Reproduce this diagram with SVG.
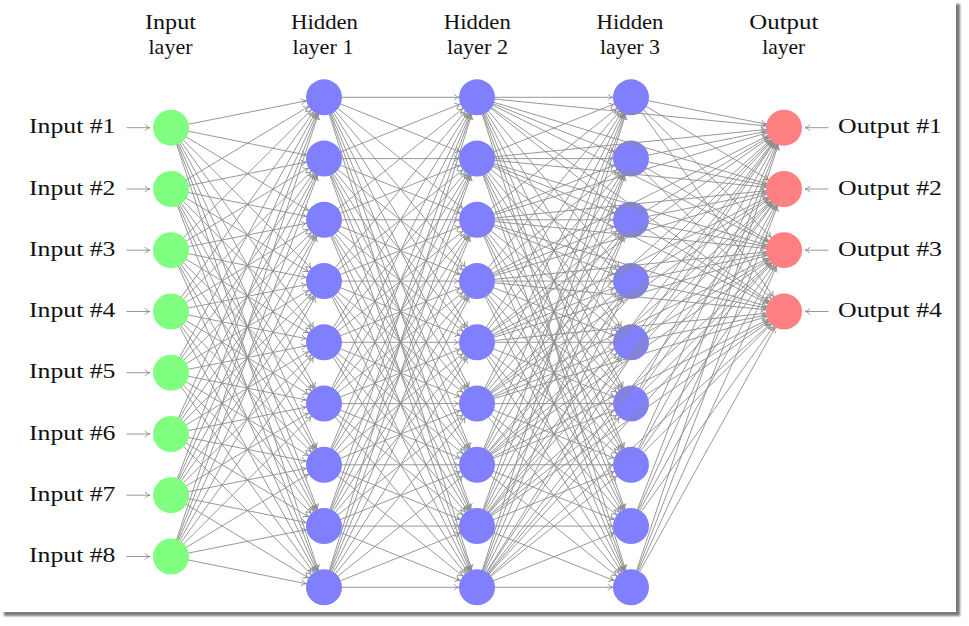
<svg xmlns="http://www.w3.org/2000/svg" width="969" height="626" viewBox="0 0 969 626">
<style>
text{font-family:"Liberation Serif","Times New Roman",serif;font-size:22px;fill:#111}
.hd{text-anchor:middle}
.lb{text-anchor:end}
.e line{stroke:#8c8c8c;stroke-width:0.9;fill:none;marker-end:url(#ah)}
.a line{stroke:#8c8c8c;stroke-width:0.9;fill:none;marker-end:url(#ah0)}
.in{fill:#80ff80}
.hid{fill:#8080ff}
.out{fill:#ff8080}
</style>
<defs>
<filter id="sh" x="-5%" y="-5%" width="110%" height="110%"><feGaussianBlur stdDeviation="1.2"/></filter>
<marker id="ah" markerUnits="userSpaceOnUse" orient="auto" markerWidth="1" markerHeight="1" overflow="visible"><path d="M-23,-3.2 C-22,-1.5 -19.5,-0.3 -18,0 C-19.5,0.3 -22,1.5 -23,3.2" fill="none" stroke="#8c8c8c" stroke-width="0.9"/></marker>
<marker id="ah0" markerUnits="userSpaceOnUse" orient="auto" markerWidth="1" markerHeight="1" overflow="visible"><path d="M-5,-3.2 C-4,-1.5 -1.5,-0.3 0,0 C-1.5,0.3 -4,1.5 -5,3.2" fill="none" stroke="#8c8c8c" stroke-width="0.9"/></marker>
</defs>
<rect x="0" y="0" width="969" height="626" fill="#fff"/>
<rect x="4" y="4" width="956" height="612" fill="#7a7a7a" filter="url(#sh)"/>
<rect x="0" y="0" width="956" height="612" fill="#fff"/>

<g id="headers">
<text class="hd" x="170.5" y="29" textLength="51" lengthAdjust="spacingAndGlyphs">Input</text>
<text class="hd" x="170.5" y="53.5" textLength="44" lengthAdjust="spacingAndGlyphs">layer</text>
<text class="hd" x="324.5" y="28.5" textLength="67" lengthAdjust="spacingAndGlyphs">Hidden</text>
<text class="hd" x="323" y="53.5" textLength="61" lengthAdjust="spacingAndGlyphs">layer 1</text>
<text class="hd" x="477.3" y="28.5" textLength="67" lengthAdjust="spacingAndGlyphs">Hidden</text>
<text class="hd" x="477.5" y="53.5" textLength="61" lengthAdjust="spacingAndGlyphs">layer 2</text>
<text class="hd" x="630" y="28.5" textLength="67" lengthAdjust="spacingAndGlyphs">Hidden</text>
<text class="hd" x="630" y="53.5" textLength="60" lengthAdjust="spacingAndGlyphs">layer 3</text>
<text class="hd" x="783.8" y="29" textLength="69" lengthAdjust="spacingAndGlyphs">Output</text>
<text class="hd" x="783.7" y="53.5" textLength="43" lengthAdjust="spacingAndGlyphs">layer</text>
</g>

<g id="connectors">
<g class="a">
<line x1="126.5" y1="127.7" x2="150" y2="127.7"/>
<line x1="126.5" y1="189" x2="150" y2="189"/>
<line x1="126.5" y1="250.2" x2="150" y2="250.2"/>
<line x1="126.5" y1="311.5" x2="150" y2="311.5"/>
<line x1="126.5" y1="372.7" x2="150" y2="372.7"/>
<line x1="126.5" y1="434" x2="150" y2="434"/>
<line x1="126.5" y1="495.2" x2="150" y2="495.2"/>
<line x1="126.5" y1="556.5" x2="150" y2="556.5"/>
<line x1="828.5" y1="127.7" x2="805" y2="127.7"/>
<line x1="828.5" y1="189" x2="805" y2="189"/>
<line x1="828.5" y1="250.2" x2="805" y2="250.2"/>
<line x1="828.5" y1="311.5" x2="805" y2="311.5"/>
</g>
<g class="e" id="in-h1">
<line x1="171" y1="127.7" x2="324" y2="97.3"/><line x1="171" y1="127.7" x2="324" y2="158.6"/><line x1="171" y1="127.7" x2="324" y2="219.8"/><line x1="171" y1="127.7" x2="324" y2="281.1"/><line x1="171" y1="127.7" x2="324" y2="342.3"/><line x1="171" y1="127.7" x2="324" y2="403.6"/><line x1="171" y1="127.7" x2="324" y2="464.8"/><line x1="171" y1="127.7" x2="324" y2="526.1"/><line x1="171" y1="127.7" x2="324" y2="587.3"/>
<line x1="171" y1="189" x2="324" y2="97.3"/><line x1="171" y1="189" x2="324" y2="158.6"/><line x1="171" y1="189" x2="324" y2="219.8"/><line x1="171" y1="189" x2="324" y2="281.1"/><line x1="171" y1="189" x2="324" y2="342.3"/><line x1="171" y1="189" x2="324" y2="403.6"/><line x1="171" y1="189" x2="324" y2="464.8"/><line x1="171" y1="189" x2="324" y2="526.1"/><line x1="171" y1="189" x2="324" y2="587.3"/>
<line x1="171" y1="250.2" x2="324" y2="97.3"/><line x1="171" y1="250.2" x2="324" y2="158.6"/><line x1="171" y1="250.2" x2="324" y2="219.8"/><line x1="171" y1="250.2" x2="324" y2="281.1"/><line x1="171" y1="250.2" x2="324" y2="342.3"/><line x1="171" y1="250.2" x2="324" y2="403.6"/><line x1="171" y1="250.2" x2="324" y2="464.8"/><line x1="171" y1="250.2" x2="324" y2="526.1"/><line x1="171" y1="250.2" x2="324" y2="587.3"/>
<line x1="171" y1="311.5" x2="324" y2="97.3"/><line x1="171" y1="311.5" x2="324" y2="158.6"/><line x1="171" y1="311.5" x2="324" y2="219.8"/><line x1="171" y1="311.5" x2="324" y2="281.1"/><line x1="171" y1="311.5" x2="324" y2="342.3"/><line x1="171" y1="311.5" x2="324" y2="403.6"/><line x1="171" y1="311.5" x2="324" y2="464.8"/><line x1="171" y1="311.5" x2="324" y2="526.1"/><line x1="171" y1="311.5" x2="324" y2="587.3"/>
<line x1="171" y1="372.7" x2="324" y2="97.3"/><line x1="171" y1="372.7" x2="324" y2="158.6"/><line x1="171" y1="372.7" x2="324" y2="219.8"/><line x1="171" y1="372.7" x2="324" y2="281.1"/><line x1="171" y1="372.7" x2="324" y2="342.3"/><line x1="171" y1="372.7" x2="324" y2="403.6"/><line x1="171" y1="372.7" x2="324" y2="464.8"/><line x1="171" y1="372.7" x2="324" y2="526.1"/><line x1="171" y1="372.7" x2="324" y2="587.3"/>
<line x1="171" y1="434" x2="324" y2="97.3"/><line x1="171" y1="434" x2="324" y2="158.6"/><line x1="171" y1="434" x2="324" y2="219.8"/><line x1="171" y1="434" x2="324" y2="281.1"/><line x1="171" y1="434" x2="324" y2="342.3"/><line x1="171" y1="434" x2="324" y2="403.6"/><line x1="171" y1="434" x2="324" y2="464.8"/><line x1="171" y1="434" x2="324" y2="526.1"/><line x1="171" y1="434" x2="324" y2="587.3"/>
<line x1="171" y1="495.2" x2="324" y2="97.3"/><line x1="171" y1="495.2" x2="324" y2="158.6"/><line x1="171" y1="495.2" x2="324" y2="219.8"/><line x1="171" y1="495.2" x2="324" y2="281.1"/><line x1="171" y1="495.2" x2="324" y2="342.3"/><line x1="171" y1="495.2" x2="324" y2="403.6"/><line x1="171" y1="495.2" x2="324" y2="464.8"/><line x1="171" y1="495.2" x2="324" y2="526.1"/><line x1="171" y1="495.2" x2="324" y2="587.3"/>
<line x1="171" y1="556.5" x2="324" y2="97.3"/><line x1="171" y1="556.5" x2="324" y2="158.6"/><line x1="171" y1="556.5" x2="324" y2="219.8"/><line x1="171" y1="556.5" x2="324" y2="281.1"/><line x1="171" y1="556.5" x2="324" y2="342.3"/><line x1="171" y1="556.5" x2="324" y2="403.6"/><line x1="171" y1="556.5" x2="324" y2="464.8"/><line x1="171" y1="556.5" x2="324" y2="526.1"/><line x1="171" y1="556.5" x2="324" y2="587.3"/>
</g>
<g class="e" id="h1-h2">
<line x1="324" y1="97.3" x2="477" y2="97.3"/><line x1="324" y1="97.3" x2="477" y2="158.6"/><line x1="324" y1="97.3" x2="477" y2="219.8"/><line x1="324" y1="97.3" x2="477" y2="281.1"/><line x1="324" y1="97.3" x2="477" y2="342.3"/><line x1="324" y1="97.3" x2="477" y2="403.6"/><line x1="324" y1="97.3" x2="477" y2="464.8"/><line x1="324" y1="97.3" x2="477" y2="526.1"/><line x1="324" y1="97.3" x2="477" y2="587.3"/>
<line x1="324" y1="158.6" x2="477" y2="97.3"/><line x1="324" y1="158.6" x2="477" y2="158.6"/><line x1="324" y1="158.6" x2="477" y2="219.8"/><line x1="324" y1="158.6" x2="477" y2="281.1"/><line x1="324" y1="158.6" x2="477" y2="342.3"/><line x1="324" y1="158.6" x2="477" y2="403.6"/><line x1="324" y1="158.6" x2="477" y2="464.8"/><line x1="324" y1="158.6" x2="477" y2="526.1"/><line x1="324" y1="158.6" x2="477" y2="587.3"/>
<line x1="324" y1="219.8" x2="477" y2="97.3"/><line x1="324" y1="219.8" x2="477" y2="158.6"/><line x1="324" y1="219.8" x2="477" y2="219.8"/><line x1="324" y1="219.8" x2="477" y2="281.1"/><line x1="324" y1="219.8" x2="477" y2="342.3"/><line x1="324" y1="219.8" x2="477" y2="403.6"/><line x1="324" y1="219.8" x2="477" y2="464.8"/><line x1="324" y1="219.8" x2="477" y2="526.1"/><line x1="324" y1="219.8" x2="477" y2="587.3"/>
<line x1="324" y1="281.1" x2="477" y2="97.3"/><line x1="324" y1="281.1" x2="477" y2="158.6"/><line x1="324" y1="281.1" x2="477" y2="219.8"/><line x1="324" y1="281.1" x2="477" y2="281.1"/><line x1="324" y1="281.1" x2="477" y2="342.3"/><line x1="324" y1="281.1" x2="477" y2="403.6"/><line x1="324" y1="281.1" x2="477" y2="464.8"/><line x1="324" y1="281.1" x2="477" y2="526.1"/><line x1="324" y1="281.1" x2="477" y2="587.3"/>
<line x1="324" y1="342.3" x2="477" y2="97.3"/><line x1="324" y1="342.3" x2="477" y2="158.6"/><line x1="324" y1="342.3" x2="477" y2="219.8"/><line x1="324" y1="342.3" x2="477" y2="281.1"/><line x1="324" y1="342.3" x2="477" y2="342.3"/><line x1="324" y1="342.3" x2="477" y2="403.6"/><line x1="324" y1="342.3" x2="477" y2="464.8"/><line x1="324" y1="342.3" x2="477" y2="526.1"/><line x1="324" y1="342.3" x2="477" y2="587.3"/>
<line x1="324" y1="403.6" x2="477" y2="97.3"/><line x1="324" y1="403.6" x2="477" y2="158.6"/><line x1="324" y1="403.6" x2="477" y2="219.8"/><line x1="324" y1="403.6" x2="477" y2="281.1"/><line x1="324" y1="403.6" x2="477" y2="342.3"/><line x1="324" y1="403.6" x2="477" y2="403.6"/><line x1="324" y1="403.6" x2="477" y2="464.8"/><line x1="324" y1="403.6" x2="477" y2="526.1"/><line x1="324" y1="403.6" x2="477" y2="587.3"/>
<line x1="324" y1="464.8" x2="477" y2="97.3"/><line x1="324" y1="464.8" x2="477" y2="158.6"/><line x1="324" y1="464.8" x2="477" y2="219.8"/><line x1="324" y1="464.8" x2="477" y2="281.1"/><line x1="324" y1="464.8" x2="477" y2="342.3"/><line x1="324" y1="464.8" x2="477" y2="403.6"/><line x1="324" y1="464.8" x2="477" y2="464.8"/><line x1="324" y1="464.8" x2="477" y2="526.1"/><line x1="324" y1="464.8" x2="477" y2="587.3"/>
<line x1="324" y1="526.1" x2="477" y2="97.3"/><line x1="324" y1="526.1" x2="477" y2="158.6"/><line x1="324" y1="526.1" x2="477" y2="219.8"/><line x1="324" y1="526.1" x2="477" y2="281.1"/><line x1="324" y1="526.1" x2="477" y2="342.3"/><line x1="324" y1="526.1" x2="477" y2="403.6"/><line x1="324" y1="526.1" x2="477" y2="464.8"/><line x1="324" y1="526.1" x2="477" y2="526.1"/><line x1="324" y1="526.1" x2="477" y2="587.3"/>
<line x1="324" y1="587.3" x2="477" y2="97.3"/><line x1="324" y1="587.3" x2="477" y2="158.6"/><line x1="324" y1="587.3" x2="477" y2="219.8"/><line x1="324" y1="587.3" x2="477" y2="281.1"/><line x1="324" y1="587.3" x2="477" y2="342.3"/><line x1="324" y1="587.3" x2="477" y2="403.6"/><line x1="324" y1="587.3" x2="477" y2="464.8"/><line x1="324" y1="587.3" x2="477" y2="526.1"/><line x1="324" y1="587.3" x2="477" y2="587.3"/>
</g>
<g class="e" id="h2-h3">
<line x1="477" y1="97.3" x2="631" y2="97.3"/><line x1="477" y1="97.3" x2="631" y2="158.6"/><line x1="477" y1="97.3" x2="631" y2="219.8"/><line x1="477" y1="97.3" x2="631" y2="281.1"/><line x1="477" y1="97.3" x2="631" y2="342.3"/><line x1="477" y1="97.3" x2="631" y2="403.6"/><line x1="477" y1="97.3" x2="631" y2="464.8"/><line x1="477" y1="97.3" x2="631" y2="526.1"/><line x1="477" y1="97.3" x2="631" y2="587.3"/>
<line x1="477" y1="158.6" x2="631" y2="97.3"/><line x1="477" y1="158.6" x2="631" y2="158.6"/><line x1="477" y1="158.6" x2="631" y2="219.8"/><line x1="477" y1="158.6" x2="631" y2="281.1"/><line x1="477" y1="158.6" x2="631" y2="342.3"/><line x1="477" y1="158.6" x2="631" y2="403.6"/><line x1="477" y1="158.6" x2="631" y2="464.8"/><line x1="477" y1="158.6" x2="631" y2="526.1"/><line x1="477" y1="158.6" x2="631" y2="587.3"/>
<line x1="477" y1="219.8" x2="631" y2="97.3"/><line x1="477" y1="219.8" x2="631" y2="158.6"/><line x1="477" y1="219.8" x2="631" y2="219.8"/><line x1="477" y1="219.8" x2="631" y2="281.1"/><line x1="477" y1="219.8" x2="631" y2="342.3"/><line x1="477" y1="219.8" x2="631" y2="403.6"/><line x1="477" y1="219.8" x2="631" y2="464.8"/><line x1="477" y1="219.8" x2="631" y2="526.1"/><line x1="477" y1="219.8" x2="631" y2="587.3"/>
<line x1="477" y1="281.1" x2="631" y2="97.3"/><line x1="477" y1="281.1" x2="631" y2="158.6"/><line x1="477" y1="281.1" x2="631" y2="219.8"/><line x1="477" y1="281.1" x2="631" y2="281.1"/><line x1="477" y1="281.1" x2="631" y2="342.3"/><line x1="477" y1="281.1" x2="631" y2="403.6"/><line x1="477" y1="281.1" x2="631" y2="464.8"/><line x1="477" y1="281.1" x2="631" y2="526.1"/><line x1="477" y1="281.1" x2="631" y2="587.3"/>
<line x1="477" y1="342.3" x2="631" y2="97.3"/><line x1="477" y1="342.3" x2="631" y2="158.6"/><line x1="477" y1="342.3" x2="631" y2="219.8"/><line x1="477" y1="342.3" x2="631" y2="281.1"/><line x1="477" y1="342.3" x2="631" y2="342.3"/><line x1="477" y1="342.3" x2="631" y2="403.6"/><line x1="477" y1="342.3" x2="631" y2="464.8"/><line x1="477" y1="342.3" x2="631" y2="526.1"/><line x1="477" y1="342.3" x2="631" y2="587.3"/>
<line x1="477" y1="403.6" x2="631" y2="97.3"/><line x1="477" y1="403.6" x2="631" y2="158.6"/><line x1="477" y1="403.6" x2="631" y2="219.8"/><line x1="477" y1="403.6" x2="631" y2="281.1"/><line x1="477" y1="403.6" x2="631" y2="342.3"/><line x1="477" y1="403.6" x2="631" y2="403.6"/><line x1="477" y1="403.6" x2="631" y2="464.8"/><line x1="477" y1="403.6" x2="631" y2="526.1"/><line x1="477" y1="403.6" x2="631" y2="587.3"/>
<line x1="477" y1="464.8" x2="631" y2="97.3"/><line x1="477" y1="464.8" x2="631" y2="158.6"/><line x1="477" y1="464.8" x2="631" y2="219.8"/><line x1="477" y1="464.8" x2="631" y2="281.1"/><line x1="477" y1="464.8" x2="631" y2="342.3"/><line x1="477" y1="464.8" x2="631" y2="403.6"/><line x1="477" y1="464.8" x2="631" y2="464.8"/><line x1="477" y1="464.8" x2="631" y2="526.1"/><line x1="477" y1="464.8" x2="631" y2="587.3"/>
<line x1="477" y1="526.1" x2="631" y2="97.3"/><line x1="477" y1="526.1" x2="631" y2="158.6"/><line x1="477" y1="526.1" x2="631" y2="219.8"/><line x1="477" y1="526.1" x2="631" y2="281.1"/><line x1="477" y1="526.1" x2="631" y2="342.3"/><line x1="477" y1="526.1" x2="631" y2="403.6"/><line x1="477" y1="526.1" x2="631" y2="464.8"/><line x1="477" y1="526.1" x2="631" y2="526.1"/><line x1="477" y1="526.1" x2="631" y2="587.3"/>
<line x1="477" y1="587.3" x2="631" y2="97.3"/><line x1="477" y1="587.3" x2="631" y2="158.6"/><line x1="477" y1="587.3" x2="631" y2="219.8"/><line x1="477" y1="587.3" x2="631" y2="281.1"/><line x1="477" y1="587.3" x2="631" y2="342.3"/><line x1="477" y1="587.3" x2="631" y2="403.6"/><line x1="477" y1="587.3" x2="631" y2="464.8"/><line x1="477" y1="587.3" x2="631" y2="526.1"/><line x1="477" y1="587.3" x2="631" y2="587.3"/>
</g>
<g class="e" id="h3-out">
<line x1="631" y1="97.3" x2="784" y2="127.7"/><line x1="631" y1="97.3" x2="784" y2="189"/><line x1="631" y1="97.3" x2="784" y2="250.2"/><line x1="631" y1="97.3" x2="784" y2="311.5"/>
<line x1="631" y1="158.6" x2="784" y2="127.7"/><line x1="631" y1="158.6" x2="784" y2="189"/><line x1="631" y1="158.6" x2="784" y2="250.2"/><line x1="631" y1="158.6" x2="784" y2="311.5"/>
<line x1="631" y1="219.8" x2="784" y2="127.7"/><line x1="631" y1="219.8" x2="784" y2="189"/><line x1="631" y1="219.8" x2="784" y2="250.2"/><line x1="631" y1="219.8" x2="784" y2="311.5"/>
<line x1="631" y1="281.1" x2="784" y2="127.7"/><line x1="631" y1="281.1" x2="784" y2="189"/><line x1="631" y1="281.1" x2="784" y2="250.2"/><line x1="631" y1="281.1" x2="784" y2="311.5"/>
<line x1="631" y1="342.3" x2="784" y2="127.7"/><line x1="631" y1="342.3" x2="784" y2="189"/><line x1="631" y1="342.3" x2="784" y2="250.2"/><line x1="631" y1="342.3" x2="784" y2="311.5"/>
<line x1="631" y1="403.6" x2="784" y2="127.7"/><line x1="631" y1="403.6" x2="784" y2="189"/><line x1="631" y1="403.6" x2="784" y2="250.2"/><line x1="631" y1="403.6" x2="784" y2="311.5"/>
<line x1="631" y1="464.8" x2="784" y2="127.7"/><line x1="631" y1="464.8" x2="784" y2="189"/><line x1="631" y1="464.8" x2="784" y2="250.2"/><line x1="631" y1="464.8" x2="784" y2="311.5"/>
<line x1="631" y1="526.1" x2="784" y2="127.7"/><line x1="631" y1="526.1" x2="784" y2="189"/><line x1="631" y1="526.1" x2="784" y2="250.2"/><line x1="631" y1="526.1" x2="784" y2="311.5"/>
<line x1="631" y1="587.3" x2="784" y2="127.7"/><line x1="631" y1="587.3" x2="784" y2="189"/><line x1="631" y1="587.3" x2="784" y2="250.2"/><line x1="631" y1="587.3" x2="784" y2="311.5"/>
</g>
</g>

<g id="hidden3">
<g id="h3n1"><circle class="hid" cx="631" cy="97.3" r="18"/></g>
<g id="h3n2"><circle class="hid" cx="631" cy="158.6" r="18"/></g>
<g id="h3n3"><circle class="hid" cx="631" cy="219.8" r="18"/></g>
<g id="h3n4"><circle class="hid" cx="631" cy="281.1" r="18"/></g>
<g id="h3n5"><circle class="hid" cx="631" cy="342.3" r="18"/></g>
<g id="h3n6"><circle class="hid" cx="631" cy="403.6" r="18"/></g>
<g id="h3n7"><circle class="hid" cx="631" cy="464.8" r="18"/></g>
<g id="h3n8"><circle class="hid" cx="631" cy="526.1" r="18"/></g>
<g id="h3n9"><circle class="hid" cx="631" cy="587.3" r="18"/></g>
</g>

<g id="connectors-h2-out" class="e">
<line x1="477" y1="97.3" x2="784" y2="127.7"/><line x1="477" y1="97.3" x2="784" y2="189"/><line x1="477" y1="97.3" x2="784" y2="250.2"/><line x1="477" y1="97.3" x2="784" y2="311.5"/>
<line x1="477" y1="158.6" x2="784" y2="127.7"/><line x1="477" y1="158.6" x2="784" y2="189"/><line x1="477" y1="158.6" x2="784" y2="250.2"/><line x1="477" y1="158.6" x2="784" y2="311.5"/>
<line x1="477" y1="219.8" x2="784" y2="127.7"/><line x1="477" y1="219.8" x2="784" y2="189"/><line x1="477" y1="219.8" x2="784" y2="250.2"/><line x1="477" y1="219.8" x2="784" y2="311.5"/>
<line x1="477" y1="281.1" x2="784" y2="127.7"/><line x1="477" y1="281.1" x2="784" y2="189"/><line x1="477" y1="281.1" x2="784" y2="250.2"/><line x1="477" y1="281.1" x2="784" y2="311.5"/>
<line x1="477" y1="342.3" x2="784" y2="127.7"/><line x1="477" y1="342.3" x2="784" y2="189"/><line x1="477" y1="342.3" x2="784" y2="250.2"/><line x1="477" y1="342.3" x2="784" y2="311.5"/>
<line x1="477" y1="403.6" x2="784" y2="127.7"/><line x1="477" y1="403.6" x2="784" y2="189"/><line x1="477" y1="403.6" x2="784" y2="250.2"/><line x1="477" y1="403.6" x2="784" y2="311.5"/>
<line x1="477" y1="464.8" x2="784" y2="127.7"/><line x1="477" y1="464.8" x2="784" y2="189"/><line x1="477" y1="464.8" x2="784" y2="250.2"/><line x1="477" y1="464.8" x2="784" y2="311.5"/>
<line x1="477" y1="526.1" x2="784" y2="127.7"/><line x1="477" y1="526.1" x2="784" y2="189"/><line x1="477" y1="526.1" x2="784" y2="250.2"/><line x1="477" y1="526.1" x2="784" y2="311.5"/>
<line x1="477" y1="587.3" x2="784" y2="127.7"/><line x1="477" y1="587.3" x2="784" y2="189"/><line x1="477" y1="587.3" x2="784" y2="250.2"/><line x1="477" y1="587.3" x2="784" y2="311.5"/>
</g>

<g id="input">
<g id="in1"><circle class="in" cx="171" cy="127.7" r="18"/><text class="lb" x="115.5" y="133.3" textLength="86.5" lengthAdjust="spacingAndGlyphs">Input #1</text></g>
<g id="in2"><circle class="in" cx="171" cy="189" r="18"/><text class="lb" x="115.5" y="194.6" textLength="86.5" lengthAdjust="spacingAndGlyphs">Input #2</text></g>
<g id="in3"><circle class="in" cx="171" cy="250.2" r="18"/><text class="lb" x="115.5" y="255.8" textLength="86.5" lengthAdjust="spacingAndGlyphs">Input #3</text></g>
<g id="in4"><circle class="in" cx="171" cy="311.5" r="18"/><text class="lb" x="115.5" y="317.1" textLength="86.5" lengthAdjust="spacingAndGlyphs">Input #4</text></g>
<g id="in5"><circle class="in" cx="171" cy="372.7" r="18"/><text class="lb" x="115.5" y="378.3" textLength="86.5" lengthAdjust="spacingAndGlyphs">Input #5</text></g>
<g id="in6"><circle class="in" cx="171" cy="434" r="18"/><text class="lb" x="115.5" y="439.6" textLength="86.5" lengthAdjust="spacingAndGlyphs">Input #6</text></g>
<g id="in7"><circle class="in" cx="171" cy="495.2" r="18"/><text class="lb" x="115.5" y="500.8" textLength="86.5" lengthAdjust="spacingAndGlyphs">Input #7</text></g>
<g id="in8"><circle class="in" cx="171" cy="556.5" r="18"/><text class="lb" x="115.5" y="562.1" textLength="86.5" lengthAdjust="spacingAndGlyphs">Input #8</text></g>
</g>

<g id="hidden1">
<g id="h1n1"><circle class="hid" cx="324" cy="97.3" r="18"/></g>
<g id="h1n2"><circle class="hid" cx="324" cy="158.6" r="18"/></g>
<g id="h1n3"><circle class="hid" cx="324" cy="219.8" r="18"/></g>
<g id="h1n4"><circle class="hid" cx="324" cy="281.1" r="18"/></g>
<g id="h1n5"><circle class="hid" cx="324" cy="342.3" r="18"/></g>
<g id="h1n6"><circle class="hid" cx="324" cy="403.6" r="18"/></g>
<g id="h1n7"><circle class="hid" cx="324" cy="464.8" r="18"/></g>
<g id="h1n8"><circle class="hid" cx="324" cy="526.1" r="18"/></g>
<g id="h1n9"><circle class="hid" cx="324" cy="587.3" r="18"/></g>
</g>

<g id="hidden2">
<g id="h2n1"><circle class="hid" cx="477" cy="97.3" r="18"/></g>
<g id="h2n2"><circle class="hid" cx="477" cy="158.6" r="18"/></g>
<g id="h2n3"><circle class="hid" cx="477" cy="219.8" r="18"/></g>
<g id="h2n4"><circle class="hid" cx="477" cy="281.1" r="18"/></g>
<g id="h2n5"><circle class="hid" cx="477" cy="342.3" r="18"/></g>
<g id="h2n6"><circle class="hid" cx="477" cy="403.6" r="18"/></g>
<g id="h2n7"><circle class="hid" cx="477" cy="464.8" r="18"/></g>
<g id="h2n8"><circle class="hid" cx="477" cy="526.1" r="18"/></g>
<g id="h2n9"><circle class="hid" cx="477" cy="587.3" r="18"/></g>
</g>

<g id="output">
<g id="out1"><circle class="out" cx="784" cy="127.7" r="18"/><text x="838" y="133.3" textLength="104" lengthAdjust="spacingAndGlyphs">Output #1</text></g>
<g id="out2"><circle class="out" cx="784" cy="189" r="18"/><text x="838" y="194.6" textLength="104" lengthAdjust="spacingAndGlyphs">Output #2</text></g>
<g id="out3"><circle class="out" cx="784" cy="250.2" r="18"/><text x="838" y="255.8" textLength="104" lengthAdjust="spacingAndGlyphs">Output #3</text></g>
<g id="out4"><circle class="out" cx="784" cy="311.5" r="18"/><text x="838" y="317.1" textLength="104" lengthAdjust="spacingAndGlyphs">Output #4</text></g>
</g>
</svg>
